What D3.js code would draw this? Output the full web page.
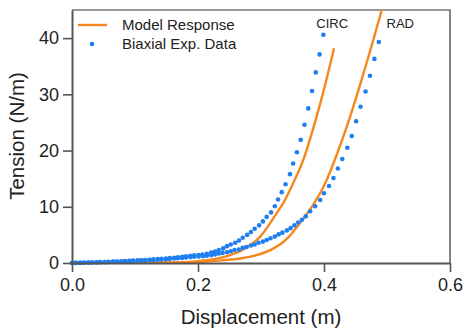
<!DOCTYPE html>
<html>
<head>
<meta charset="utf-8">
<script src="https://cdn.jsdelivr.net/npm/d3@7"></script>
<style>
  html, body { margin: 0; padding: 0; background: #fff; }
  svg { font-family: "Liberation Sans", Arial, sans-serif; display: block; }
</style>
</head>
<body>
<div id="chart"></div>
<script>
// experimental data, CIRC direction
const circX = [0, .006, .013, .019, .026, .032, .039, .045, .052, .058, .065, .071, .078, .084, .091, .097,
  .104, .110, .116, .123, .129, .136, .142, .149, .155, .162, .168, .175, .181, .188, .194, .201,
  .207, .214, .221, .227, .233, .240, .246, .252, .259, .265, .271, .278, .284, .290, .297, .303,
  .309, .316, .322, .327, .333, .339, .346, .351, .357, .363, .369, .375, .381, .387, .393, .399];
const circY = [0, .02, .04, .06, .08, .10, .13, .15, .18, .21, .24, .27, .30, .34, .38, .42,
  .46, .50, .54, .59, .64, .69, .75, .81, .87, .94, 1.01, 1.09, 1.17, 1.26, 1.35, 1.43,
  1.5, 1.65, 1.85, 2.05, 2.3, 2.6, 3.0, 3.3, 3.6, 4.0, 4.5, 5.0, 5.5, 6.1, 6.7, 7.4,
  8.2, 9.0, 10.1, 11.3, 12.6, 14.0, 15.8, 17.7, 19.7, 21.9, 24.6, 27.5, 30.6, 33.9, 37.1, 40.6];

// experimental data, RAD direction
const radX = [0, .006, .013, .019, .026, .032, .039, .045, .052, .058, .065, .071, .078, .084, .091, .097,
  .104, .110, .116, .123, .129, .136, .142, .149, .155, .162, .168, .175, .181, .188, .194, .201,
  .208, .214, .221, .227, .233, .239, .246, .252, .258, .265, .271, .277, .284, .290, .296, .303,
  .309, .315, .322, .328, .334, .341, .347, .353, .359, .365, .371, .378, .386, .394, .400, .408,
  .415, .422, .429, .437, .444, .451, .458, .466, .473, .480, .487];
const radY = [0, .02, .03, .05, .07, .09, .11, .13, .15, .18, .20, .23, .26, .29, .32, .35,
  .39, .42, .46, .50, .54, .58, .63, .68, .73, .79, .85, .91, .98, 1.05, 1.11, 1.16,
  1.2, 1.3, 1.4, 1.5, 1.7, 1.8, 1.9, 2.1, 2.3, 2.4, 2.7, 2.85, 3.1, 3.3, 3.6, 3.8,
  4.1, 4.4, 4.7, 5.1, 5.4, 5.8, 6.2, 6.7, 7.2, 7.7, 8.3, 9.2, 10.1, 11.2, 12.4, 13.7,
  15.1, 16.8, 18.5, 20.5, 22.6, 25.2, 27.8, 30.5, 33.3, 36.3, 39.3];

// model response curves
const circModelX = [0, .10, .15, .187, .214, .235, .251, .267, .283, .298, .314, .328, .335, .351, .367, .383, .396, .416];
const circModelY = [0, .03, .10, .2, .5, .9, 1.4, 2.1, 3.2, 4.6, 7.0, 9.4, 10.6, 14.2, 18.3, 24.0, 29.2, 38.2];
const radModelX = [0, .10, .15, .187, .214, .240, .267, .293, .320, .341, .357, .370, .383, .402, .420, .439, .460, .4916, .497];
const radModelY = [0, .02, .05, .1, .25, .5, .8, 1.4, 2.6, 4.3, 6.4, 8.3, 10.4, 14.2, 19.2, 25.2, 32.7, 45.0, 47.2];

const xTicks = [0, 0.2, 0.4, 0.6];
const yTicks = [0, 10, 20, 30, 40];
const legendLabels = ['Model Response', 'Biaxial Exp. Data'];
const seriesLabels = ['CIRC', 'RAD'];

const orange = '#f5871f';
const blue = '#1f7ff0';
const axisColor = '#555';

const W = 465, H = 331;
const margin = {top: 10, right: 15, bottom: 68, left: 72};
const width = W - margin.left - margin.right;
const height = H - margin.top - margin.bottom;

const svg = d3.select('#chart').append('svg')
  .attr('width', W)
  .attr('height', H);

svg.append('defs').append('clipPath')
  .attr('id', 'clip')
  .append('rect')
  .attr('width', width)
  .attr('height', height);

const g = svg.append('g')
  .attr('transform', 'translate(' + margin.left + ',' + margin.top + ')');

const x = d3.scaleLinear().domain([0, 0.6]).range([0, width]);
const y = d3.scaleLinear().domain([0, 45]).range([height, 0]);

// frame top + right
g.append('path')
  .attr('d', 'M0,0H' + width + 'V' + height)
  .attr('fill', 'none')
  .attr('stroke', '#333')
  .attr('stroke-width', 1.2);

const line = d3.line()
  .curve(d3.curveMonotoneX)
  .x(d => x(d[0]))
  .y(d => y(d[1]));

const plot = g.append('g').attr('clip-path', 'url(#clip)');

[[circModelX, circModelY], [radModelX, radModelY]].forEach(([xs, ys]) => {
  plot.append('path')
    .datum(xs.map((v, i) => [v, ys[i]]))
    .attr('fill', 'none')
    .attr('stroke', orange)
    .attr('stroke-width', 2.4)
    .attr('d', line);
});

[[circX, circY], [radX, radY]].forEach(([xs, ys]) => {
  g.append('g').selectAll('circle')
    .data(xs.map((v, i) => [v, ys[i]]))
    .join('circle')
    .attr('cx', d => x(d[0]))
    .attr('cy', d => y(d[1]))
    .attr('r', 2.3)
    .attr('fill', blue);
});

// axes
const xAxis = g.append('g')
  .attr('transform', 'translate(0,' + height + ')')
  .call(d3.axisBottom(x).tickValues(xTicks).tickFormat(d3.format('.1f')).tickSize(9).tickSizeOuter(0).tickPadding(6));
const yAxis = g.append('g')
  .call(d3.axisLeft(y).tickValues(yTicks).tickSize(9).tickSizeOuter(0).tickPadding(4));

[xAxis, yAxis].forEach(a => {
  a.select('.domain').attr('stroke', axisColor).attr('stroke-width', 2);
  a.selectAll('.tick line').attr('stroke', axisColor).attr('stroke-width', 1.6);
  a.selectAll('.tick text')
    .attr('fill', '#222')
    .style('font-size', '18px')
    .style('font-family', '"Liberation Sans", Arial, sans-serif');
});

// axis titles
svg.append('text')
  .attr('x', 261)
  .attr('y', 324)
  .attr('text-anchor', 'middle')
  .attr('fill', '#222')
  .style('font-size', '20.5px')
  .text('Displacement (m)');

svg.append('text')
  .attr('transform', 'translate(24,136) rotate(-90)')
  .attr('text-anchor', 'middle')
  .attr('fill', '#222')
  .style('font-size', '20.5px')
  .text('Tension (N/m)');

// legend
const legend = g.append('g');
legend.append('line')
  .attr('x1', 6).attr('x2', 35)
  .attr('y1', 15).attr('y2', 15)
  .attr('stroke', orange)
  .attr('stroke-width', 2.4);
legend.append('circle')
  .attr('cx', 20).attr('cy', 34)
  .attr('r', 2.3)
  .attr('fill', blue);
legend.selectAll('text')
  .data(legendLabels)
  .join('text')
  .attr('x', 50)
  .attr('y', (d, i) => 20 + i * 19)
  .attr('fill', '#222')
  .style('font-size', '15px')
  .text(d => d);

// curve labels
g.selectAll('.series-label')
  .data(seriesLabels)
  .join('text')
  .attr('class', 'series-label')
  .attr('x', (d, i) => [x(0.413), x(0.521)][i])
  .attr('y', 18)
  .attr('text-anchor', 'middle')
  .attr('fill', '#222')
  .style('font-size', '13px')
  .text(d => d);
</script>
</body>
</html>
